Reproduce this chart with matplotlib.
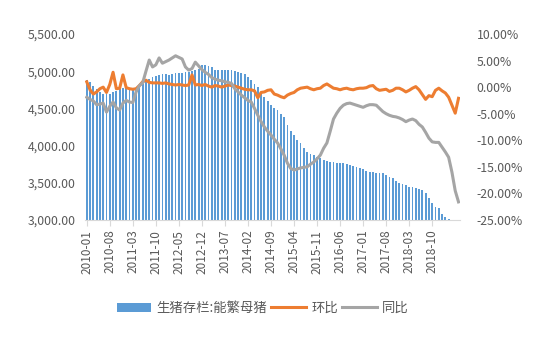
import matplotlib
matplotlib.use("Agg")
import matplotlib.pyplot as plt
import numpy as np
import pandas as pd
from matplotlib.ticker import FuncFormatter

plt.rcParams['font.family'] = ['Noto Sans CJK SC', 'DejaVu Sans']

# monthly data, 2010-01 .. 2019-06
months = pd.date_range("2010-01", periods=114, freq="MS").strftime("%Y-%m").tolist()

# sow inventory (bars)
sows = [
    4880, 4860, 4800, 4760, 4720, 4700, 4690, 4700, 4720, 4740, 4760, 4780,
    4790, 4780, 4770, 4780, 4800, 4830, 4860, 4890, 4920, 4940, 4950, 4960,
    4960, 4950, 4960, 4970, 4980, 4980, 4990, 4990, 5000, 5010, 5030, 5080,
    5080, 5070, 5060, 5020, 5010, 5010, 5010, 5010, 5010, 5000, 4990, 4970,
    4960, 4920, 4880, 4830, 4790, 4720, 4650, 4600, 4545, 4510, 4480, 4430,
    4385, 4275, 4200, 4140, 4080, 4035, 3970, 3915, 3890, 3875, 3850, 3830,
    3800, 3790, 3780, 3775, 3770, 3770, 3765, 3750, 3740, 3730, 3715, 3700,
    3680, 3660, 3645, 3640, 3635, 3630, 3625, 3600, 3580, 3560, 3530, 3500,
    3490, 3470, 3450, 3440, 3430, 3420, 3400, 3360, 3300, 3230, 3180, 3160,
    3080, 3040, 3010, 2950, 2850, 2750,
]

# month-on-month change, %
mom = [
    1.0, -0.5, -1.3, -0.9, -0.3, 0.0, -1.0, 0.5, 2.8, -0.3, -0.2, 2.3,
    -0.1, -0.3, -0.4, -0.3, 0.3, 1.0, 1.3, 0.9, 0.8, 0.8, 0.8, 0.7,
    0.8, 0.6, 0.5, 0.4, 0.5, 0.4, 0.3, 0.4, 2.3, 0.4, 0.5, 0.3,
    0.5, 0.2, 0.0, 0.3, 0.2, 0.0, 0.2, 0.4, 0.3, 0.2, 0.0, -0.2,
    -0.4, -0.5, -0.5, -0.7, -2.0, -1.0, -0.9, -0.6, -0.5, -1.3, -1.5, -1.8,
    -2.0, -1.5, -1.2, -1.0, -0.5, -0.2, -0.1, 0.0, -0.3, -0.5, -0.3, -0.2,
    0.3, 0.6, 0.2, -0.2, -0.3, -0.5, -0.3, -0.2, -0.4, -0.5, -0.3, -0.2,
    -0.2, -0.1, 0.2, 0.3, -0.3, -0.6, -0.5, -0.4, -0.8, -0.6, -0.2, -0.2,
    -0.5, -0.9, -0.6, -0.2, 0.1, -0.5, -1.4, -2.3, -1.6, -1.8, -0.6, -0.2,
    -0.7, -1.1, -1.9, -3.4, -4.9, -2.1,
]

# year-on-year change, %
yoy = [
    -1.9, -2.3, -2.6, -3.3, -3.2, -3.0, -4.7, -3.6, -2.8, -3.9, -4.3, -3.0,
    -2.5, -2.8, -2.9, -0.9, 0.3, 0.8, 3.0, 5.1, 3.8, 4.2, 5.5, 4.5,
    4.8, 5.1, 5.5, 5.9, 5.6, 5.3, 3.8, 3.2, 3.5, 4.7, 4.0, 3.3,
    2.8, 2.4, 1.8, 1.5, 1.3, 1.2, 1.0, 0.9, 0.7, -0.3, -0.9, -1.5,
    -2.0, -2.5, -2.8, -4.0, -5.3, -6.5, -7.5, -8.3, -9.0, -9.8, -10.5, -11.6,
    -12.8, -14.3, -15.3, -15.6, -15.4, -15.2, -15.1, -15.0, -14.5, -14.1, -13.5, -12.8,
    -11.5, -10.5, -8.3, -6.0, -4.9, -4.0, -3.4, -3.1, -3.0, -3.2, -3.4, -3.6,
    -3.8, -3.5, -3.3, -3.3, -3.4, -4.0, -4.6, -5.0, -5.3, -5.5, -5.6, -5.8,
    -6.1, -6.5, -6.2, -6.0, -6.3, -7.0, -7.5, -8.5, -9.6, -10.3, -10.4, -10.4,
    -11.3, -12.2, -13.2, -16.0, -19.5, -21.6,
]

# labelled months on the category axis
tick_labels = months[0:106:7]

blue = "#5B9BD5"
orange = "#ED7D31"
gray = "#A5A5A5"
txt = "#595959"

fig = plt.figure(figsize=(5.42, 3.4), dpi=100)
ax = fig.add_axes([0.157, 0.353, 0.692, 0.547])
ax2 = ax.twinx()

x = np.arange(len(months))
bars = ax.bar(x, sows, width=0.55, color=blue, label="生猪存栏:能繁母猪")
ln1, = ax2.plot(x, mom, color=orange, lw=2.2, label="环比")
ln2, = ax2.plot(x, yoy, color=gray, lw=2.2, label="同比")

ax.set_xlim(-0.5, len(months) - 0.5)
ax.set_ylim(3000, 5500)
ax.set_yticks(np.arange(3000, 5501, 500))
ax.yaxis.set_major_formatter(FuncFormatter(lambda v, p: f"{v:,.2f}"))
ax2.set_ylim(-25, 10)
ax2.set_yticks(np.arange(-25, 10.1, 5))
ax2.yaxis.set_major_formatter(FuncFormatter(lambda v, p: f"{v:.2f}%"))

ax.set_xticks([months.index(m) for m in tick_labels])
ax.set_xticklabels(tick_labels, rotation=90)

for a in (ax, ax2):
    for s in ("top", "left", "right"):
        a.spines[s].set_visible(False)
    a.spines["bottom"].set_color("#D9D9D9")
ax2.spines["bottom"].set_visible(False)

ax.tick_params(axis="y", length=0, pad=7, labelsize=8.8, labelcolor=txt)
ax2.tick_params(axis="y", length=0, pad=12, labelsize=8.8, labelcolor=txt)
ax.tick_params(axis="x", length=4, color="#D9D9D9", pad=3, labelsize=8.5, labelcolor=txt)

fig.legend(handles=[bars, ln1, ln2], loc="center", bbox_to_anchor=(0.485, 0.094),
           ncol=3, frameon=False, fontsize=9.6, handlelength=2.6,
           columnspacing=0.3, handletextpad=0.4, labelcolor=txt)

fig.savefig("out.png", dpi=100)
